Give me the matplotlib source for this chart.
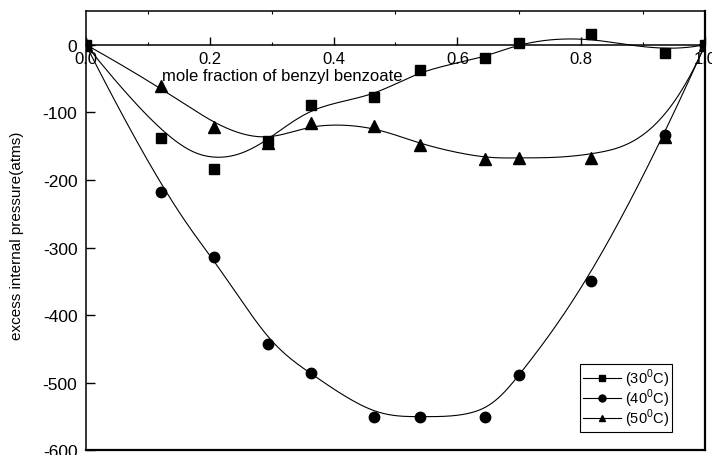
import numpy as np
import matplotlib
matplotlib.use("Agg")
import matplotlib.pyplot as plt
from matplotlib.lines import Line2D
from matplotlib.transforms import blended_transform_factory

plt.rcParams['font.family'] = ['Liberation Sans', 'DejaVu Sans']
plt.rcParams['mathtext.fontset'] = 'custom'
plt.rcParams['mathtext.rm'] = 'Liberation Sans'
plt.rcParams['axes.unicode_minus'] = False

# mole fraction of benzyl benzoate
x_frac = [0.0, 0.121, 0.207, 0.295, 0.363, 0.465, 0.539, 0.645, 0.700, 0.816, 0.935, 1.0]

# excess internal pressure (atms) at each temperature
p_30 = [0, -138, -184, -143, -90, -78, -37, -20, 3, 15, -13, 0]
p_40 = [0, -218, -314, -443, -486, -550, -550, -550, -489, -349, -133, 0]
p_50 = [0, -62, -122, -145, -116, -120, -148, -169, -167, -168, -136, 0]

labels = [r'(30$^\mathregular{0}$C)', r'(40$^\mathregular{0}$C)', r'(50$^\mathregular{0}$C)']
markers = ['s', 'o', '^']
msizes = [6.5, 7.5, 8.5]


def bspline(xs, ys, n=400):
    # clamped cubic B-spline using the points as control points
    pts = np.column_stack([xs, ys]).astype(float)
    k = 3
    m = len(pts)
    inner = np.arange(1, m - k)
    knots = np.concatenate([np.zeros(k + 1), inner, np.full(k + 1, m - k)]).astype(float)
    t = np.linspace(0, m - k, n)
    t[-1] -= 1e-9
    # Cox-de Boor recursion
    B = np.zeros((n, len(knots) - 1))
    for i in range(len(knots) - 1):
        B[:, i] = (t >= knots[i]) & (t < knots[i + 1])
    for d in range(1, k + 1):
        Bn = np.zeros((n, len(knots) - 1 - d))
        for i in range(len(knots) - 1 - d):
            a = knots[i + d] - knots[i]
            b = knots[i + d + 1] - knots[i + 1]
            left = (t - knots[i]) / a * B[:, i] if a > 0 else 0
            right = (knots[i + d + 1] - t) / b * B[:, i + 1] if b > 0 else 0
            Bn[:, i] = left + right
        B = Bn
    curve = B @ pts
    return curve[:, 0], curve[:, 1]


fig = plt.figure(figsize=(7.12, 4.56), dpi=100)
ax = fig.add_axes([0.1204, 0.0099, 0.8700, 0.9644])

for ys, mk, ms in zip([p_30, p_40, p_50], markers, msizes):
    cx, cy = bspline(x_frac, ys)
    ax.plot(cx, cy, color='black', lw=0.8)
    ax.plot(x_frac, ys, linestyle='none', marker=mk, ms=ms, color='black')

ax.set_xlim(0, 1.0)
ax.set_ylim(-600, 50)

# x axis runs along zero, bottom frame drawn separately
ax.spines['bottom'].set_position(('data', 0))
for s in ax.spines.values():
    s.set_linewidth(1.1)
ax.add_line(Line2D([0, 1], [0, 0], transform=ax.transAxes, color='black', lw=1.6, clip_on=False))
ax.spines['right'].set_linewidth(1.6)

ax.set_xticks([0.0, 0.2, 0.4, 0.6, 0.8, 1.0])
ax.set_xticklabels(['0.0', '0.2', '0.4', '0.6', '0.8', '1.0'])
ax.set_xticks(np.arange(0.1, 1.0, 0.2), minor=True)
ax.set_yticks(np.arange(-600, 1, 100))
ax.tick_params(axis='x', which='major', direction='in', length=6, width=1, pad=5, labelsize=12)
ax.tick_params(axis='x', which='minor', direction='in', length=2, width=0.8, top=True)
ax.tick_params(axis='y', which='major', direction='in', length=6.5, width=1, pad=6, labelsize=12.5)

ax.text(0.318, -46, 'mole fraction of benzyl benzoate',
        transform=blended_transform_factory(ax.transAxes, ax.transData),
        ha='center', va='center', fontsize=12)
fig.text(17.5 / 712, 1 - 236 / 456, 'excess internal pressure(atms)', rotation=90,
         ha='center', va='center', fontsize=11)

handles = [Line2D([], [], color='black', lw=0.8, marker=mk, ms=5) for mk in markers]
leg = ax.legend(handles, labels, loc='lower right', bbox_to_anchor=(0.9467, 0.042),
                borderaxespad=0, fancybox=False, framealpha=1, edgecolor='black',
                fontsize=10.5, handlelength=2.6, handletextpad=0.3, labelspacing=-0.15,
                borderpad=0.2, numpoints=1)
leg.get_frame().set_linewidth(0.8)

fig.savefig('out.png', dpi=100)
